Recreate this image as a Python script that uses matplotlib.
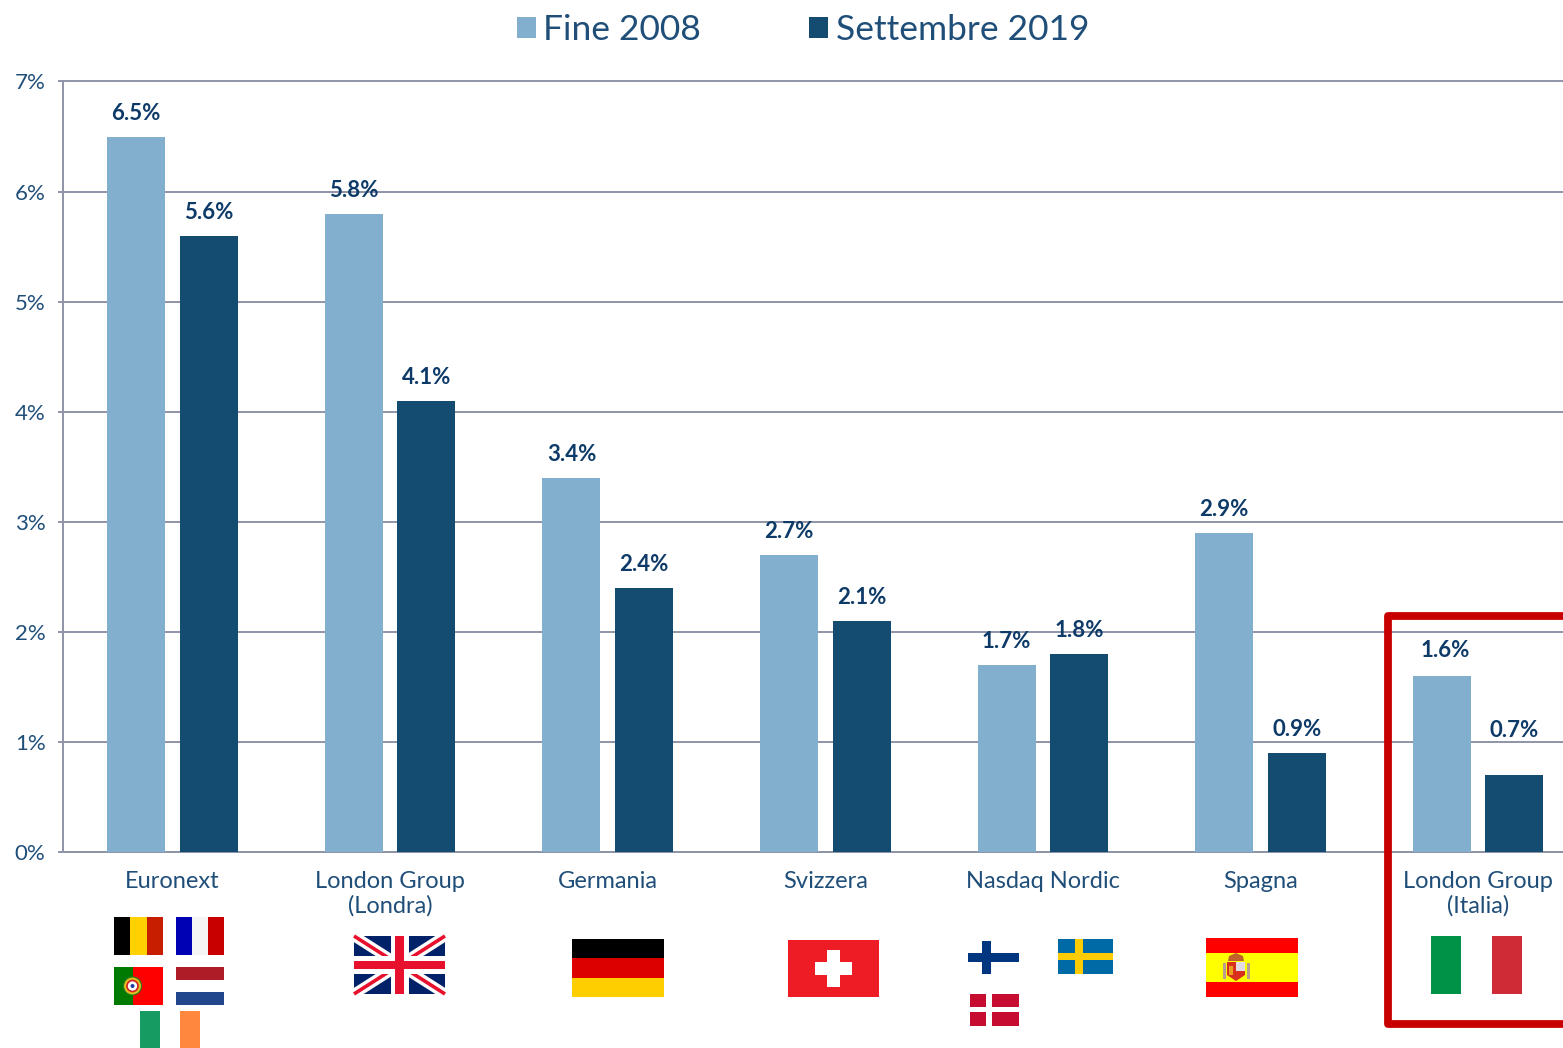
import numpy as np
import matplotlib
matplotlib.use('Agg')
from matplotlib import pyplot as plt
from matplotlib.patches import Rectangle, Polygon, Circle

categories = ['Euronext', 'London Group\n(Londra)', 'Germania', 'Svizzera', 'Nasdaq Nordic', 'Spagna', 'London Group\n(Italia)']
fine_2008 = [6.5, 5.8, 3.4, 2.7, 1.7, 2.9, 1.6]
settembre_2019 = [5.6, 4.1, 2.4, 2.1, 1.8, 0.9, 0.7]
y_ticks = [0, 1, 2, 3, 4, 5, 6, 7]
series_names = ['Fine 2008', 'Settembre 2019']

W, H = 1563, 1048
LIGHT = '#82afcd'
DARK = '#144b70'
GRID = '#8f94a8'
TEXT = '#1f4e79'
LABEL = '#0e3a68'
FONT = 'Lato'

plt.rcParams['font.family'] = [FONT, 'DejaVu Sans']


def stripes_v(ov, x0, x1, y0, y1, colors):
    w = (x1 - x0) / len(colors)
    for i, c in enumerate(colors):
        ov.add_patch(Rectangle((x0 + i * w, y0), w, y1 - y0, fc=c, ec='none'))


def stripes_h(ov, x0, x1, y0, y1, colors):
    h = (y1 - y0) / len(colors)
    for i, c in enumerate(colors):
        ov.add_patch(Rectangle((x0, y0 + i * h), x1 - x0, h, fc=c, ec='none'))


def rect(ov, x0, x1, y0, y1, color):
    ov.add_patch(Rectangle((x0, y0), x1 - x0, y1 - y0, fc=color, ec='none'))


def union_jack(ov, x0, x1, y0, y1):
    clip = Rectangle((x0, y0), x1 - x0, y1 - y0, fc='#012169', ec='none')
    ov.add_patch(clip)
    # same zorder as the patches, so the cross goes on top of the diagonals
    ov.plot([x0, x1], [y0, y1], color='white', lw=7.5, solid_capstyle='butt', clip_path=clip, zorder=1)
    ov.plot([x0, x1], [y1, y0], color='white', lw=7.5, solid_capstyle='butt', clip_path=clip, zorder=1)
    ov.plot([x0, x1], [y0, y1], color='#e8112d', lw=2.6, solid_capstyle='butt', clip_path=clip, zorder=1)
    ov.plot([x0, x1], [y1, y0], color='#e8112d', lw=2.6, solid_capstyle='butt', clip_path=clip, zorder=1)
    xc, yc = (x0 + x1) / 2, (y0 + y1) / 2
    rect(ov, xc - 9, xc + 9, y0, y1, 'white')
    rect(ov, x0, x1, yc - 9, yc + 9, 'white')
    rect(ov, xc - 4.5, xc + 4.5, y0, y1, '#e8112d')
    rect(ov, x0, x1, yc - 4, yc + 4, '#e8112d')


def draw_flags(ov):
    # euronext
    stripes_v(ov, 114, 163, 917, 955, ['#000000', '#ffd100', '#c81e00'])
    stripes_v(ov, 176, 224, 917, 955, ['#0000b4', '#f5f5f5', '#c80000'])
    rect(ov, 114, 163, 967, 1005, '#ff0000')
    rect(ov, 114, 132.7, 967, 1005, '#007a00')
    ov.add_patch(Circle((132.5, 986), 9, fc='#e0c020', ec='#2a7a20', lw=0.8))
    ov.add_patch(Circle((132.5, 986), 5.5, fc='white', ec='#d02020', lw=1.2))
    ov.add_patch(Circle((132.5, 986), 2, fc='#2040a0', ec='none'))
    stripes_h(ov, 176, 224, 967, 1005, ['#ae1c28', '#ffffff', '#21468b'])
    rect(ov, 140, 160, 1011, 1048, '#169b62')
    rect(ov, 180, 200, 1011, 1048, '#ff883e')
    # uk, germany, switzerland
    union_jack(ov, 354, 445, 936, 994)
    stripes_h(ov, 572, 664, 939, 997, ['#000000', '#dd0000', '#ffce00'])
    rect(ov, 788, 879, 940, 997, '#ee1c25')
    rect(ov, 827, 840, 950, 987, 'white')
    rect(ov, 815, 852, 962, 975, 'white')
    # nordic
    rect(ov, 982, 991, 941, 974, '#003580')
    rect(ov, 968, 1019, 952.7, 962, '#003580')
    rect(ov, 1058, 1113, 939, 974, '#006aa7')
    rect(ov, 1075, 1082.5, 939, 974, '#fecc00')
    rect(ov, 1058, 1113, 953, 960, '#fecc00')
    rect(ov, 970, 1019, 994, 1026, '#c60c30')
    rect(ov, 986, 991.5, 994, 1026, 'white')
    rect(ov, 970, 1019, 1007, 1012, 'white')
    # spain
    rect(ov, 1206, 1298, 938, 997, '#ff0000')
    rect(ov, 1206, 1298, 952.7, 982, '#ffff00')
    ov.add_patch(Polygon([(1227, 962), (1245, 962), (1245, 975), (1236, 981), (1227, 975)], fc='#d8301c', ec='none'))
    rect(ov, 1236, 1245, 962, 971, '#e4dce4')
    rect(ov, 1229, 1233, 966, 975, '#e8a020')
    rect(ov, 1222.5, 1225.5, 963, 979, '#b8a090')
    rect(ov, 1246.5, 1249.5, 963, 979, '#b8a090')
    ov.add_patch(Polygon([(1228, 961), (1229, 956), (1236, 953), (1243, 956), (1244, 961)], fc='#c0602c', ec='none'))
    # italy
    rect(ov, 1431, 1461, 936, 994, '#009246')
    rect(ov, 1491.5, 1522, 936, 994, '#ce2b37')


fig = plt.figure(figsize=(W / 100, H / 100), dpi=100)
ax = fig.add_axes([63 / W, (H - 852) / H, (W - 63) / W, (852 - 81.5) / H])

x = np.arange(len(categories))
bar_w = 58 / 217.6
off = 36.25 / 217.6
b1 = ax.bar(x - off, fine_2008, bar_w, color=LIGHT, label=series_names[0], zorder=3)
b2 = ax.bar(x + off, settembre_2019, bar_w, color=DARK, label=series_names[1], zorder=3)

# the last group's labels were moved by hand in the original
nudge = {(0, 6): (2.5, 1.5), (1, 6): (0, 15)}
for s, (bars, vals) in enumerate(((b1, fine_2008), (b2, settembre_2019))):
    for i, (r, v) in enumerate(zip(bars, vals)):
        dx, dy = nudge.get((s, i), (0, 0))
        ax.annotate('%.1f%%' % v, (r.get_x() + r.get_width() / 2, v), xytext=(dx, 16.8 + dy),
                    textcoords='offset points', ha='center', va='center',
                    fontsize=16, fontweight='bold', color=LABEL, zorder=5)

ax.set_xlim(-0.5032, 6.39)
ax.set_ylim(0, 7)
ax.set_yticks(y_ticks)
ax.set_yticklabels(['%d%%' % t for t in y_ticks], fontsize=16, color=TEXT)
ax.set_xticks(x)
ax.set_xticklabels(categories, fontsize=17, color=TEXT, linespacing=1.2)
ax.tick_params(axis='y', length=3.6, width=1.4, color=GRID, pad=9)
ax.tick_params(axis='x', length=0, pad=13.5)
ax.grid(axis='y', color=GRID, lw=1.4, zorder=1, clip_on=False)
ax.set_axisbelow(True)
for s in ('top', 'right'):
    ax.spines[s].set_visible(False)
for s in ('left', 'bottom'):
    ax.spines[s].set_color(GRID)
    ax.spines[s].set_linewidth(1.4)

ax.legend(loc='center', bbox_to_anchor=(803 / W, (H - 30) / H), bbox_transform=fig.transFigure,
          ncol=2, frameon=False, fontsize=25.5, labelcolor=TEXT, handlelength=0.53, handleheight=0.53,
          handletextpad=0.22, columnspacing=3.05, borderpad=0, borderaxespad=0)

# flags and the red frame go on an overlay in pixels
ov = fig.add_axes([0, 0, 1, 1], facecolor='none')
ov.set_xlim(0, W)
ov.set_ylim(H, 0)
ov.axis('off')
draw_flags(ov)
ov.plot([W + 10, 1387.5, 1387.5, W + 10], [615.5, 615.5, 1024, 1024], color='#c80000', lw=5.6,
        solid_joinstyle='round', solid_capstyle='butt')

fig.savefig('out.png', dpi=100)
